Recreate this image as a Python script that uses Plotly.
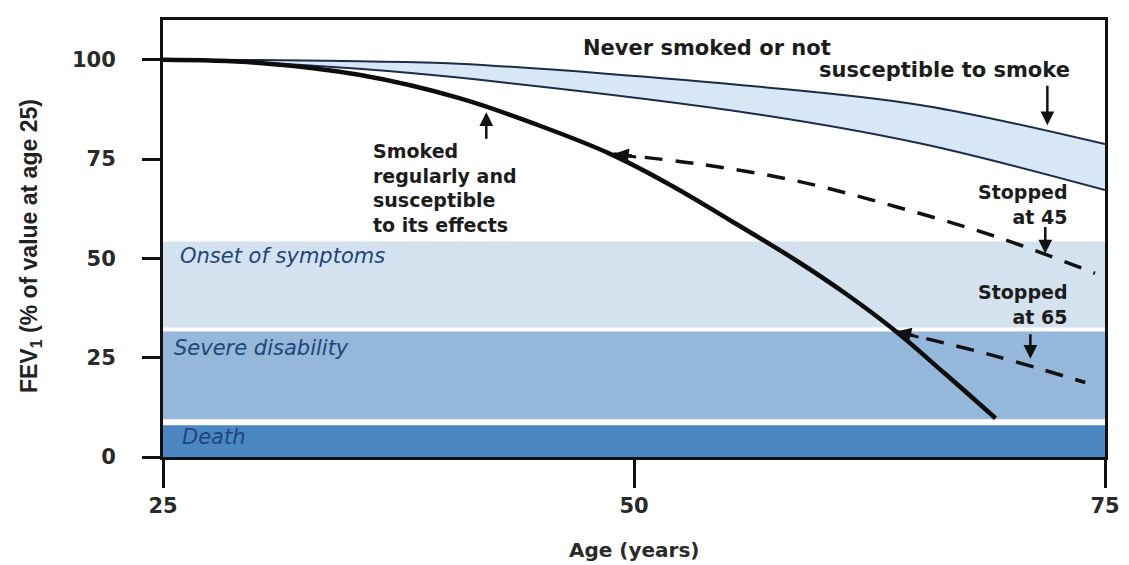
import plotly.graph_objects as go

# ---------------- data ----------------
# Never smoked / not susceptible (upper and lower edge of band)
never_age = [25.0, 30.12, 35.40, 40.68, 56.52, 65.34, 75.0]
never_upper = [100.0, 99.9, 99.6, 99.0, 93.25, 88.5, 78.75]
never_lower = [100.0, 99.25, 97.75, 95.5, 86.3, 78.8, 67.2]

# Smoked regularly and susceptible
smoker_age = [25.0, 30.12, 35.40, 40.68, 44.7, 48.76, 52.0, 55.10, 58.63, 61.3, 63.91, 66.5, 69.19]
smoker_fev = [100.0, 99.2, 96.2, 90.4, 83.9, 76.25, 68.3, 59.6, 49.4, 40.9, 31.6, 21.0, 9.75]

# Stopped at 45
stop45_age = [48.92, 53.35, 58.63, 63.91, 69.19, 74.47]
stop45_fev = [76.25, 73.8, 69.5, 63.0, 55.5, 46.25]

# Stopped at 65
stop65_age = [63.91, 69.19, 73.95]
stop65_fev = [31.6, 25.4, 18.75]

# Clinical bands
band_names = ["Onset of symptoms", "Severe disability", "Death"]
band_low = [32.6, 9.5, 0.0]
band_high = [54.25, 31.6, 8.0]

x_ticks = [25, 50, 75]
y_ticks = [0, 25, 50, 75, 100]

# ---------------- style ----------------
band_colors = ["#d4e2ef", "#94b7da", "#4b87c3"]
band_label_pos = [(25.8, 50.5), (25.5, 27.5), (25.9, 5.0)]
FONT = "DejaVu Sans"
INK = "#1c1c1c"
NAVY = "#1b2b48"

fig = go.Figure()

for lo, hi, col in zip(band_low, band_high, band_colors):
    fig.add_shape(type="rect", xref="x", yref="y", x0=25, x1=75, y0=lo, y1=hi,
                  fillcolor=col, line=dict(width=0), layer="below")

for name, (bx, by) in zip(band_names, band_label_pos):
    fig.add_annotation(x=bx, y=by, xref="x", yref="y", text="<i>%s</i>" % name,
                       showarrow=False, xanchor="left", yanchor="middle",
                       font=dict(family=FONT, size=21, color="#1d4679"))

# never smoked band
fig.add_trace(go.Scatter(x=never_age, y=never_upper, mode="lines",
                         line=dict(color=NAVY, width=2, shape="spline"),
                         showlegend=False, hoverinfo="skip"))
fig.add_trace(go.Scatter(x=never_age, y=never_lower, mode="lines",
                         line=dict(color=NAVY, width=2, shape="spline"),
                         fill="tonexty", fillcolor="#d8e7f6",
                         showlegend=False, hoverinfo="skip"))

# quitters
fig.add_trace(go.Scatter(x=stop45_age, y=stop45_fev, mode="lines",
                         line=dict(color="#111111", width=3.5, dash="18px,13px", shape="spline"),
                         showlegend=False, hoverinfo="skip"))
fig.add_trace(go.Scatter(x=stop65_age, y=stop65_fev, mode="lines",
                         line=dict(color="#111111", width=3.5, dash="18px,13px", shape="spline"),
                         showlegend=False, hoverinfo="skip"))

# smoker
fig.add_trace(go.Scatter(x=smoker_age, y=smoker_fev, mode="lines",
                         line=dict(color="#0d0d0d", width=4.5, shape="spline", smoothing=1.1),
                         showlegend=False, hoverinfo="skip"))

# arrowheads where quitting branches leave the smoker curve
fig.add_annotation(x=stop45_age[0], y=stop45_fev[0], ax=24, ay=3, text="",
                   showarrow=True, arrowhead=2, arrowsize=1, arrowwidth=3, arrowcolor="#111111")
fig.add_annotation(x=stop65_age[0], y=stop65_fev[0], ax=24, ay=6, text="",
                   showarrow=True, arrowhead=2, arrowsize=1, arrowwidth=3, arrowcolor="#111111")

tfont = dict(family=FONT, size=21, color=INK, weight="bold")
mfont = dict(family=FONT, size=19, color=INK, weight="bold")

# text labels
fig.add_annotation(x=47.18, y=103.0, text="Never smoked or not", showarrow=False,
                   xanchor="left", yanchor="middle", font=tfont)
fig.add_annotation(x=73.26, y=97.5, text="susceptible to smoke", showarrow=False,
                   xanchor="right", yanchor="middle", font=tfont)

fig.add_annotation(x=36.03, y=67.75,
                   text="Smoked<br>regularly and<br>susceptible<br>to its effects",
                   showarrow=False, xanchor="left", yanchor="middle", align="left", font=mfont)

fig.add_annotation(x=73.15, y=63.5, text="Stopped<br>at 45", showarrow=False,
                   xanchor="right", yanchor="middle", align="right", font=mfont)
fig.add_annotation(x=73.15, y=38.5, text="Stopped<br>at 65", showarrow=False,
                   xanchor="right", yanchor="middle", align="right", font=mfont)

# pointer arrows
arrow_kw = dict(text="", showarrow=True, arrowhead=2, arrowsize=1.1, arrowwidth=2.5,
                arrowcolor="#111111", ax=0)
fig.add_annotation(x=71.94, y=83.5, ay=-41, **arrow_kw)
fig.add_annotation(x=71.83, y=51.25, ay=-28, **arrow_kw)
fig.add_annotation(x=71.04, y=24.75, ay=-26, **arrow_kw)
fig.add_annotation(x=42.16, y=86.75, ay=28, **arrow_kw)

# axis titles
fig.add_annotation(xref="paper", yref="paper", x=-0.1404, y=0.482,
                   text="FEV<sub>1</sub> (% of value at age 25)", textangle=-90,
                   showarrow=False, xanchor="center", yanchor="middle",
                   font=dict(family="Liberation Sans Narrow, Liberation Sans", size=23,
                             color="#222222", weight="bold"))
fig.add_annotation(xref="paper", yref="paper", x=0.5005, y=-0.2136,
                   text="Age (years)", showarrow=False, xanchor="center", yanchor="middle",
                   font=dict(family=FONT, size=20, color="#2a2a2a", weight="bold"))

fig.update_xaxes(range=[25, 75], tickvals=x_ticks, showgrid=False, zeroline=False,
                 showline=True, linecolor="#111111", linewidth=3, mirror=True,
                 ticks="outside", ticklen=28, tickwidth=3, tickcolor="#111111",
                 tickfont=dict(family=FONT, size=21, color="#2a2a2a", weight="bold"))
fig.update_yaxes(range=[0, 110], tickvals=y_ticks, showgrid=False, zeroline=False,
                 showline=True, linecolor="#111111", linewidth=3, mirror=True,
                 ticks="outside", ticklen=18, tickwidth=3, tickcolor="#111111",
                 ticklabelstandoff=22,
                 tickfont=dict(family=FONT, size=21, color="#2a2a2a", weight="bold"))

# the page adds an 8px body margin, so the figure is sized to compensate
fig.update_layout(width=1121, height=557, plot_bgcolor="white", paper_bgcolor="white",
                  margin=dict(l=155, r=19, t=9, b=108), showlegend=False)

fig.write_html("out.html")
